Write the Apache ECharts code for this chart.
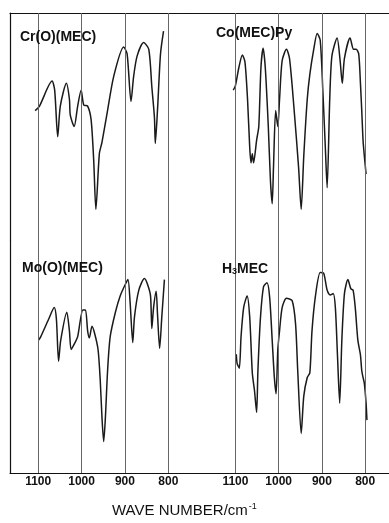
<!DOCTYPE html>
<html>
<head>
<meta charset="utf-8">
<script src="https://cdn.jsdelivr.net/npm/echarts@6/dist/echarts.min.js"></script>
<style>html,body{margin:0;padding:0;background:#fff}#c{width:389px;height:523px}</style>
</head>
<body>
<div id="c"></div>
<script>
// Wave numbers (cm^-1) and relative transmittance (%)
const crWave = [1107,1097,1068,1062,1055,1049,1035,1028,1026,1017,1009,1001,995,986,978,972,967,959,953,941,926,903,895,886,880,872,857,845,838,832,830,825,818,811];
const crTrans = [57,59,70,66,45.5,59,69,62,55,50,59,66,59.5,59,53,35,13.5,38,43,56,72,85,82,61,72,81,87,84,67.5,54,42.5,57,82,92];

const coWave = [1105,1100,1092,1084,1078,1072,1067,1064,1061,1058,1051,1046,1041,1036,1031,1024,1019,1015,1012,1007,1002,998,992,982,975,965,954,948,942,934,928,919,911,904,898,892,888,882,877,865,858,853,848,835,827,821,815,811,808,805,802,798];
const coTrans = [66,68,76,81.5,78.5,62,41,34,38,34,44,50,76,84.5,76,50,26,16,32,57,50,62,79,84,80,59,32,13.5,37,62,73,84,91,88,66,40,23,62,81,89,79,69,80,89,84,84,82,69,57,44,37,29];

const moWave = [1099,1094,1076,1063,1058,1053,1048,1034,1028,1024,1015,1009,997,991,986,982,976,970,962,957,953,949,945,940,934,922,911,899,893,888,882,878,868,855,848,841,838,834,828,825,820,815,809];
const moTrans = [57,58.5,66,71,66,48,57,69,61,53,56,58.5,70,70,61,58,63,60,53,40,24,13.5,24,44,58.5,69,76,81,83,73,56,67,78.5,83.5,81,76,62,71,78,68.5,53.5,67,83];

const h3Wave = [1098,1096,1091,1087,1081,1073,1067,1061,1056,1051,1048,1042,1035,1027,1021,1015,1010,1006,1002,998,992,982,969,961,956,948,942,934,928,923,915,904,896,888,881,874,869,864,859,854,848,840,833,828,823,817,811,808,805,802,798,796];
const h3Trans = [51,47,45,58.5,71,76,67,43,35.5,26,44,67,80,81.7,75.7,57,41,34,53,61,71,75,74,64,44,17,33,41,43,61,76,86,85.7,78.5,76.4,77,71,50,30,57,77,83,79,78.5,71,57,50.6,44,41,38.5,30,22.7];

const tickLabels = [1100, 1000, 900, 800];
const panelNames = ['Cr(O)(MEC)', 'Co(MEC)Py', 'Mo(O)(MEC)', '{n|H}{s|3}{n|MEC}'];

const pairs = (w, t) => w.map((v, i) => [v, t[i]]);
const FONT = 'Liberation Sans';

const grids = [
  {left: 10, top: 13, width: 180, height: 227},
  {left: 190, top: 13, width: 199, height: 227},
  {left: 10, top: 240, width: 180, height: 233},
  {left: 190, top: 240, width: 199, height: 233}
];
const ranges = [[750,1165],[745,1205],[750,1165],[745,1205]];

const xAxes = grids.map((g, i) => ({
  type: 'value', gridIndex: i, inverse: true, position: 'bottom',
  min: ranges[i][0], max: ranges[i][1],
  splitLine: {show: false},
  axisTick: {show: false},
  axisLine: {show: i >= 2, onZero: false, lineStyle: {color: '#111', width: 1.2}},
  axisLabel: {
    show: i >= 2, customValues: tickLabels, color: '#111',
    formatter: v => String(v),
    fontFamily: FONT, fontSize: 12, fontWeight: 'bold', margin: 3
  }
}));
// top frame line
[0, 1].forEach(i => xAxes.push({
  type: 'value', gridIndex: i, position: 'top', inverse: true,
  min: ranges[i][0], max: ranges[i][1],
  axisLine: {show: true, onZero: false, lineStyle: {color: '#111', width: 1.2}},
  axisTick: {show: false}, axisLabel: {show: false}, splitLine: {show: false}
}));

const yAxes = grids.map((g, i) => ({
  type: 'value', gridIndex: i, min: 0, max: 100,
  axisLine: {show: i % 2 === 0, onZero: false, lineStyle: {color: '#111', width: 1.2}},
  axisTick: {show: false}, axisLabel: {show: false}, splitLine: {show: false}
}));

const dataSets = [pairs(crWave, crTrans), pairs(coWave, coTrans), pairs(moWave, moTrans), pairs(h3Wave, h3Trans)];
const series = dataSets.map((d, i) => ({
  type: 'line', xAxisIndex: i, yAxisIndex: i, data: d,
  showSymbol: false, smooth: 0.25,
  lineStyle: {color: '#1a1a1a', width: 1.5},
  markLine: {
    silent: true, symbol: 'none', label: {show: false},
    lineStyle: {color: '#666', width: 1, type: 'solid'},
    data: tickLabels.map(v => ({xAxis: v}))
  }
}));

const titlePos = [[20, 30], [216, 26], [22, 261], [222, 262]];
const titles = panelNames.map((t, i) => ({
  text: t, left: titlePos[i][0], top: titlePos[i][1], padding: 0,
  textStyle: {
    fontFamily: FONT, fontSize: 14, fontWeight: 'bold', color: '#111',
    rich: {
      n: {fontFamily: FONT, fontSize: 14, fontWeight: 'bold', color: '#111'},
      s: {fontFamily: FONT, fontSize: 9, fontWeight: 'bold', color: '#111', verticalAlign: 'bottom', padding: [3,0,0,0]}
    }
  }
}));
titles.push({
  text: 'WAVE NUMBER/cm{sup|-1}', left: 112, top: 502, padding: 0,
  textStyle: {
    fontFamily: FONT, fontSize: 15, fontWeight: 'normal', color: '#111',
    rich: {sup: {fontFamily: FONT, fontSize: 9, color: '#111', verticalAlign: 'top', padding: [0,0,9,1]}}
  }
});

const chart = echarts.init(document.getElementById('c'), null, {renderer: 'canvas'});
chart.setOption({
  animation: false,
  backgroundColor: '#fff',
  title: titles,
  grid: grids,
  xAxis: xAxes,
  yAxis: yAxes,
  series: series
});
</script>
</body>
</html>
